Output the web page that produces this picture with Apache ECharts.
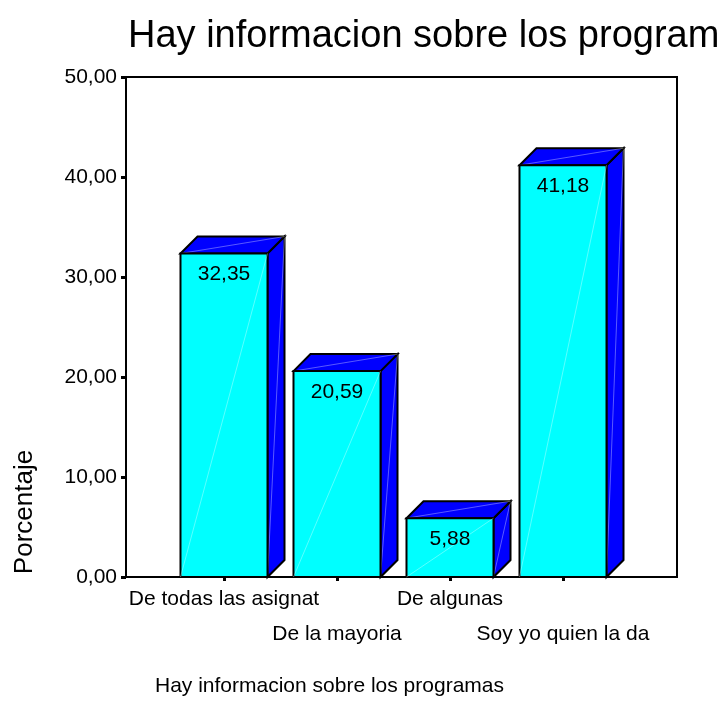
<!DOCTYPE html>
<html>
<head>
<meta charset="utf-8">
<script src="https://cdn.jsdelivr.net/npm/echarts@6/dist/echarts.min.js"></script>
<style>
  html, body { margin: 0; padding: 0; background: #fff; }
  #chart { width: 720px; height: 715px; }
</style>
</head>
<body>
<div id="chart"></div>
<script>
// datos
const categorias = ["De todas las asignat", "De la mayoria", "De algunas", "Soy yo quien la da"];
const porcentajes = [32.35, 20.59, 5.88, 41.18];
const yMin = 0;
const yMax = 50;
const yPaso = 10;

const fmt = v => Number(v).toFixed(2).replace(".", ",");
const fuente = "Liberation Sans, Arial, sans-serif";

const chart = echarts.init(document.getElementById("chart"));

// barra 3D: cara frontal cian, tapa y lateral azul
function barra3d(params, api) {
  const i = api.value(0);
  const v = api.value(1);
  const base = api.coord([i, 0]);
  const tope = api.coord([i, v]);
  const w = api.size([1, 0])[0] * 0.77;
  const d = 17;
  const x0 = base[0] - w / 2, x1 = base[0] + w / 2;
  const y0 = base[1], y1 = tope[1];
  const borde = { stroke: "#000", lineWidth: 2, lineJoin: "miter" };
  const brillo = { stroke: "rgba(255,255,255,0.35)", lineWidth: 1 };
  return {
    type: "group",
    children: [
      { type: "polygon", shape: { points: [[x1, y1], [x1 + d, y1 - d], [x1 + d, y0 - d], [x1, y0]] },
        style: Object.assign({ fill: "#0000ff" }, borde) },
      { type: "line", shape: { x1: x1, y1: y0, x2: x1 + d, y2: y1 - d }, style: brillo },
      { type: "polygon", shape: { points: [[x0, y1], [x0 + d, y1 - d], [x1 + d, y1 - d], [x1, y1]] },
        style: Object.assign({ fill: "#0000ff" }, borde) },
      { type: "line", shape: { x1: x0, y1: y1, x2: x1 + d, y2: y1 - d }, style: brillo },
      { type: "rect", shape: { x: x0, y: y1, width: w, height: y0 - y1 },
        style: Object.assign({ fill: "#00ffff" }, borde) },
      { type: "line", shape: { x1: x0, y1: y0, x2: x1, y2: y1 }, style: brillo },
      { type: "text", style: { x: base[0], y: y1 + 21, text: fmt(v), fill: "#000",
        font: "21px " + fuente, align: "center", verticalAlign: "middle" } }
    ]
  };
}

chart.setOption({
  backgroundColor: "#fff",
  animation: false,
  textStyle: { fontFamily: fuente },
  title: [
    { text: "Hay informacion sobre los programas", left: 123, top: 13,
      textStyle: { fontSize: 38, fontWeight: "normal", color: "#000", fontFamily: fuente } },
    { text: "Hay informacion sobre los programas", left: 150, top: 671,
      textStyle: { fontSize: 21, fontWeight: "normal", color: "#000", fontFamily: fuente } }
  ],
  graphic: [
    { type: "text", x: 25, y: 512, rotation: Math.PI / 2,
      style: { text: "Porcentaje", font: "26px " + fuente, fill: "#000",
        align: "center", verticalAlign: "middle" } }
  ],
  grid: [
    { left: 126, right: 43, top: 77, bottom: 138, show: true,
      borderColor: "#000", borderWidth: 2, backgroundColor: "transparent" },
    { left: 167.5, right: 100.5, top: 77, bottom: 138 }
  ],
  xAxis: [
    { gridIndex: 0, type: "value", min: 0, max: 1, show: false },
    { gridIndex: 1, type: "category", data: categorias,
      axisLine: { show: false },
      axisTick: { show: true, alignWithLabel: true, length: 4, lineStyle: { color: "#000", width: 3 } },
      axisLabel: { interval: 0, margin: 5, color: "#000", fontSize: 21, lineHeight: 35,
        fontFamily: fuente, formatter: (v, i) => (i % 2 ? "\n" + v : v) } }
  ],
  yAxis: [
    { gridIndex: 0, type: "value", min: yMin, max: yMax, interval: yPaso,
      axisLine: { show: true, lineStyle: { color: "#000", width: 2 } },
      axisTick: { show: true, length: 5, lineStyle: { color: "#000", width: 3 } },
      splitLine: { show: false },
      axisLabel: { margin: 9, color: "#000", fontSize: 21, fontFamily: fuente, formatter: fmt } },
    { gridIndex: 1, type: "value", min: yMin, max: yMax, interval: yPaso, show: false,
      splitLine: { show: false } }
  ],
  series: [
    { type: "custom", xAxisIndex: 1, yAxisIndex: 1, renderItem: barra3d,
      data: porcentajes.map((v, i) => [i, v]) }
  ]
});
</script>
</body>
</html>
